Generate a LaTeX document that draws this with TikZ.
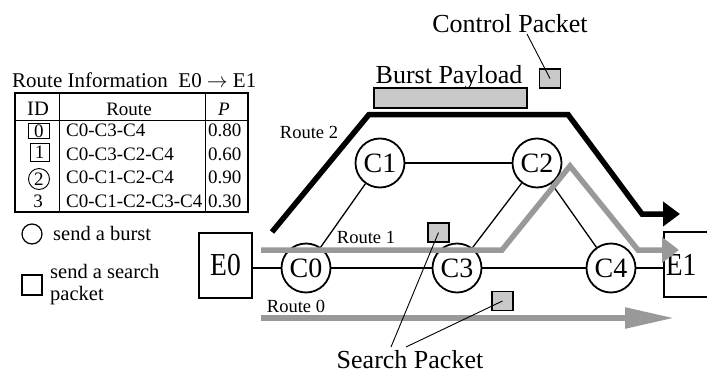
\documentclass[tikz,border=0pt]{standalone}
\usepackage{fontspec}
\setmainfont{Liberation Serif}
\newfontfamily\tallserif[FakeStretch=0.86]{Liberation Serif}
\usetikzlibrary{arrows.meta}

\definecolor{routegray}{gray}{0.6}
\definecolor{pktfill}{gray}{0.79}

\begin{document}
\begin{tikzpicture}[x=1pt,y=-1pt,
  font=\fontsize{19}{21}\selectfont,
  core/.style={circle,draw,line width=1.8pt,fill=white,minimum size=49pt,inner sep=0pt,
    font=\fontsize{28}{30}\selectfont},
  endbox/.style={rectangle,draw,line width=1.8pt,minimum height=65pt,inner sep=0pt,
    font=\tallserif\fontsize{32}{34}\selectfont},
  link/.style={line width=1.3pt},
  lbl/.style={inner sep=0pt},
  bigtxt/.style={lbl,anchor=base,font=\fontsize{26}{28}\selectfont},
  routetxt/.style={lbl,anchor=base,font=\fontsize{18.5}{20}\selectfont},
  legendtxt/.style={lbl,anchor=base west,font=\fontsize{20.5}{22}\selectfont},
  cell/.style={lbl,anchor=base west},
  pkt/.style={rectangle,draw,line width=1.2pt,fill=pktfill,minimum width=21pt,
    minimum height=19pt,inner sep=0pt},
  route/.style={line width=5.5pt,draw=routegray},
  leader/.style={line width=0.9pt},
]
\useasboundingbox (0,0) rectangle (707,375);
\clip (0,0) rectangle (707,375);

% ---- network nodes ----
\node[core] (C0) at (306,268) {C0};
\node[core] (C1) at (380,163) {C1};
\node[core] (C2) at (537,163) {C2};
\node[core] (C3) at (457,268) {C3};
\node[core] (C4) at (611,268) {C4};
\node[endbox,minimum width=53pt] (E0) at (225.5,265.5) {E0};
\node[endbox,anchor=west,text width=48pt,align=left,inner xsep=2pt] (E1) at (663,264.5) {E1};

% ---- links ----
\draw[link] (C0.west -| E0.east) -- (C0);
\draw[link] (C0) -- (C3);
\draw[link] (C3) -- (C4);
\draw[link] (C4) -- (C4 -| E1.west);
\draw[link] (C0) -- (C1);
\draw[link] (C1) -- (C2);
\draw[link] (C2) -- (C3);
\draw[link] (C2) -- (C4);

% ---- route 2 (burst path) ----
\coordinate (r2s) at (272,232);
\coordinate (r2a) at (369,114.5);
\coordinate (r2b) at (568,114.5);
\coordinate (r2c) at (642,214);
\coordinate (r2e) at (680,214);
\draw[line width=5.5pt,-{Triangle[length=17pt,width=24pt]}]
  (r2s) -- (r2a) -- (r2b) -- (r2c) -- (r2e);

% ---- route 1 ----
\coordinate (r1s) at (261,250);
\coordinate (r1a) at (502,250);
\coordinate (r1b) at (570,166);
\coordinate (r1c) at (638,250);
\coordinate (r1e) at (679,250);
\draw[route,-{Triangle[length=17pt,width=25pt]}]
  (r1s) -- (r1a) -- (r1b) -- (r1c) -- (r1e);

% ---- route 0 ----
\coordinate (r0s) at (261,318);
\coordinate (r0e) at (674,318);
\draw[route,-{Triangle[length=49pt,width=20pt]}] (r0s) -- (r0e);

% ---- packets ----
\node[rectangle,draw,line width=1.2pt,fill=pktfill,minimum width=153pt,minimum height=20pt,
  inner sep=0pt] (bp) at (450.5,98) {};
\node[pkt] (cp) at (550,78.5) {};
\node[pkt] (sp1) at (438.5,232.5) {};
\node[pkt] (sp2) at (502.5,301) {};

% ---- labels ----
\node[bigtxt] (cptxt) at (510,32) {Control Packet};
\node[bigtxt] (bptxt) at (449,83) {Burst Payload};
\node[bigtxt] (sptxt) at (410,368) {Search Packet};
\node[routetxt] (r2txt) at (309,138) {Route 2};
\node[routetxt] (r1txt) at (366,243) {Route 1};
\node[routetxt] (r0txt) at (296,312) {Route 0};

% ---- leaders ----
\coordinate (cpl) at (527,34);
\coordinate (spl1) at (391,347);
\coordinate (spl2) at (406,347);
\draw[leader] (cpl) -- (cp.center);
\draw[leader] (spl1) -- (sp1.center);
\draw[leader] (spl2) -- (sp2.center);

% ---- route information table ----
\node[lbl,anchor=base west,font=\fontsize{21}{23}\selectfont] (title) at (12,87)
  {Route Information\ \ E0 $\rightarrow$\ E1};
\draw[line width=1.5pt] (15,93) rectangle (248,212);
\draw[line width=1pt] (59,93) -- (59,212);
\draw[line width=1pt] (205,93) -- (205,212);
\draw[line width=1pt] (15,120) -- (248,120);

\node[lbl,anchor=base,font=\fontsize{20.5}{22}\selectfont] (hid) at (38,115) {ID};
\node[lbl,anchor=base] (hroute) at (129,115) {Route};
\node[lbl,anchor=base] (hp) at (224,115) {\textit{P}};

\node[draw,line width=0.9pt,minimum width=21pt,minimum height=15pt,inner sep=0pt] (id0) at (39,131) {0};
\node[draw,line width=0.9pt,minimum width=19pt,minimum height=18pt,inner sep=0pt] (id1) at (39.5,152.5) {1};
\node[circle,draw,line width=0.9pt,minimum size=21pt,inner sep=0pt] (id2) at (39,179) {2};
\node[lbl,anchor=base] (id3) at (38,207) {3};

\node[cell] (rt0) at (66,136) {C0-C3-C4};
\node[cell] (rt1) at (66,160) {C0-C3-C2-C4};
\node[cell] (rt2) at (66,183) {C0-C1-C2-C4};
\node[cell] (rt3) at (66,207) {C0-C1-C2-C3-C4};

\node[cell] (p0) at (208,136) {0.80};
\node[cell] (p1) at (208,160) {0.60};
\node[cell] (p2) at (208,183) {0.90};
\node[cell] (p3) at (208,207) {0.30};

% ---- legend ----
\node[circle,draw,line width=1.2pt,minimum size=20pt,inner sep=0pt] (lgcirc) at (32,234) {};
\node[legendtxt] (lgburst) at (53,240) {send a burst};
\node[rectangle,draw,line width=1.2pt,minimum size=20pt,inner sep=0pt] (lgsq) at (32,285) {};
\node[legendtxt] (lgsearch) at (50,278) {send a search};
\node[legendtxt] (lgpacket) at (50,300) {packet};
\end{tikzpicture}
\end{document}
